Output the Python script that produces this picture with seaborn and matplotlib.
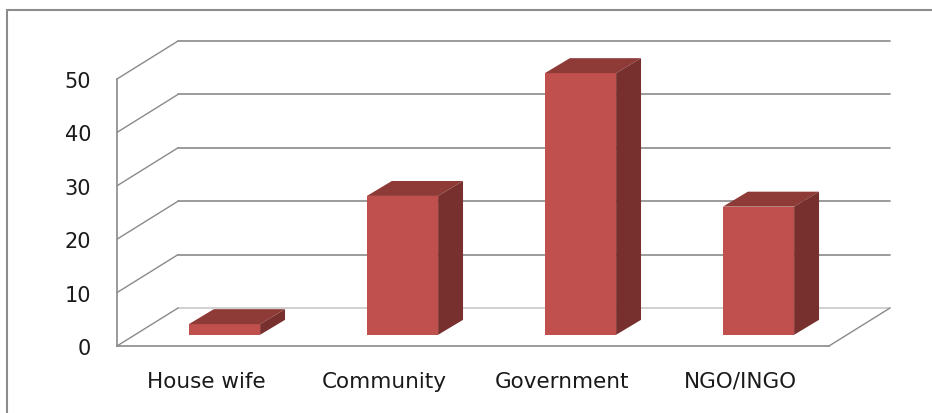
import numpy as np
import pandas as pd
import matplotlib
matplotlib.use("Agg")
import matplotlib.pyplot as plt
from matplotlib.lines import Line2D
import seaborn as sns

# data
categories = ["House wife", "Community", "Government", "NGO/INGO"]
values = [2, 26, 49, 24]
y_ticks = [0, 10, 20, 30, 40, 50]

df = pd.DataFrame({"category": categories, "value": values})

sns.set_style("white")
plt.rcParams["font.family"] = ["DejaVu Sans"]

fig = plt.figure(figsize=(9.32, 4.14), dpi=100)
ax = fig.add_axes([117 / 932, 1 - 347 / 414, 712 / 932, 267 / 414])

grid_col = "#8a8a8a"
front_col = "#C0504D"
top_col = "#8E3A37"
side_col = "#77302D"

# 3d offsets (data units): back wall depth, bar front position, bar depth
DX, DY = 0.343, 7.12
FX, FY = 0.104, 2.1
BDX, BDY = 0.14, 2.8

sns.barplot(data=df, x="category", y="value", color=front_col, width=0.4,
            saturation=1, ax=ax, zorder=3)

ax.set_xlim(-0.5, 3.5)
ax.set_ylim(0, 50)

# back wall gridlines and left wall diagonals
for v in y_ticks:
    c = "#c8c8c8" if v == 0 else grid_col
    ax.plot([-0.5 + DX, 3.5 + DX], [v + DY, v + DY], color=c, lw=1.2,
            clip_on=False, zorder=1)
    ax.plot([-0.5, -0.5 + DX], [v, v + DY], color=grid_col, lw=1.0,
            clip_on=False, zorder=1)
# floor right edge
ax.plot([3.5, 3.5 + DX], [0, DY], color=grid_col, lw=1.0, clip_on=False, zorder=1)

# shift front faces and add top / side faces
for p in ax.patches:
    x0 = p.get_x() + FX
    w = p.get_width()
    h = p.get_height()
    p.set_x(x0)
    p.set_y(FY)
    p.set_edgecolor("none")
    p.set_clip_on(False)
    ax.fill([x0, x0 + w, x0 + w + BDX, x0 + BDX],
            [FY + h, FY + h, FY + h + BDY, FY + h + BDY],
            color=top_col, lw=0, zorder=3, clip_on=False)
    ax.fill([x0 + w, x0 + w + BDX, x0 + w + BDX, x0 + w],
            [FY, FY + BDY, FY + h + BDY, FY + h],
            color=side_col, lw=0, zorder=3, clip_on=False)

# axes styling
for s in ["top", "right"]:
    ax.spines[s].set_visible(False)
for s in ["left", "bottom"]:
    ax.spines[s].set_color(grid_col)
    ax.spines[s].set_linewidth(1.2)
ax.set_yticks(y_ticks)
ax.set_xticks(range(len(categories)))
ax.set_xticklabels(categories)
ax.set_xticks(np.arange(-0.5, 4, 1), minor=True)
ax.tick_params(axis="y", direction="out", length=6.5, width=1.2, color=grid_col,
               pad=12, labelsize=15, labelcolor="#1a1a1a")
ax.tick_params(axis="x", which="major", length=0, pad=18, labelsize=15.5,
               labelcolor="#1a1a1a")
ax.tick_params(axis="x", which="minor", direction="out", length=6, width=1.2,
               color=grid_col)
ax.set_xlabel("")
ax.set_ylabel("")
ax.patch.set_alpha(0)

# chart border (left and top visible)
fig.add_artist(Line2D([7 / 932, 7 / 932], [0, 1 - 11 / 414], color="#8c8c8c", lw=1.5))
fig.add_artist(Line2D([7 / 932, 1], [1 - 11 / 414, 1 - 11 / 414], color="#8c8c8c", lw=1.5))

fig.savefig("out.png", dpi=100)
